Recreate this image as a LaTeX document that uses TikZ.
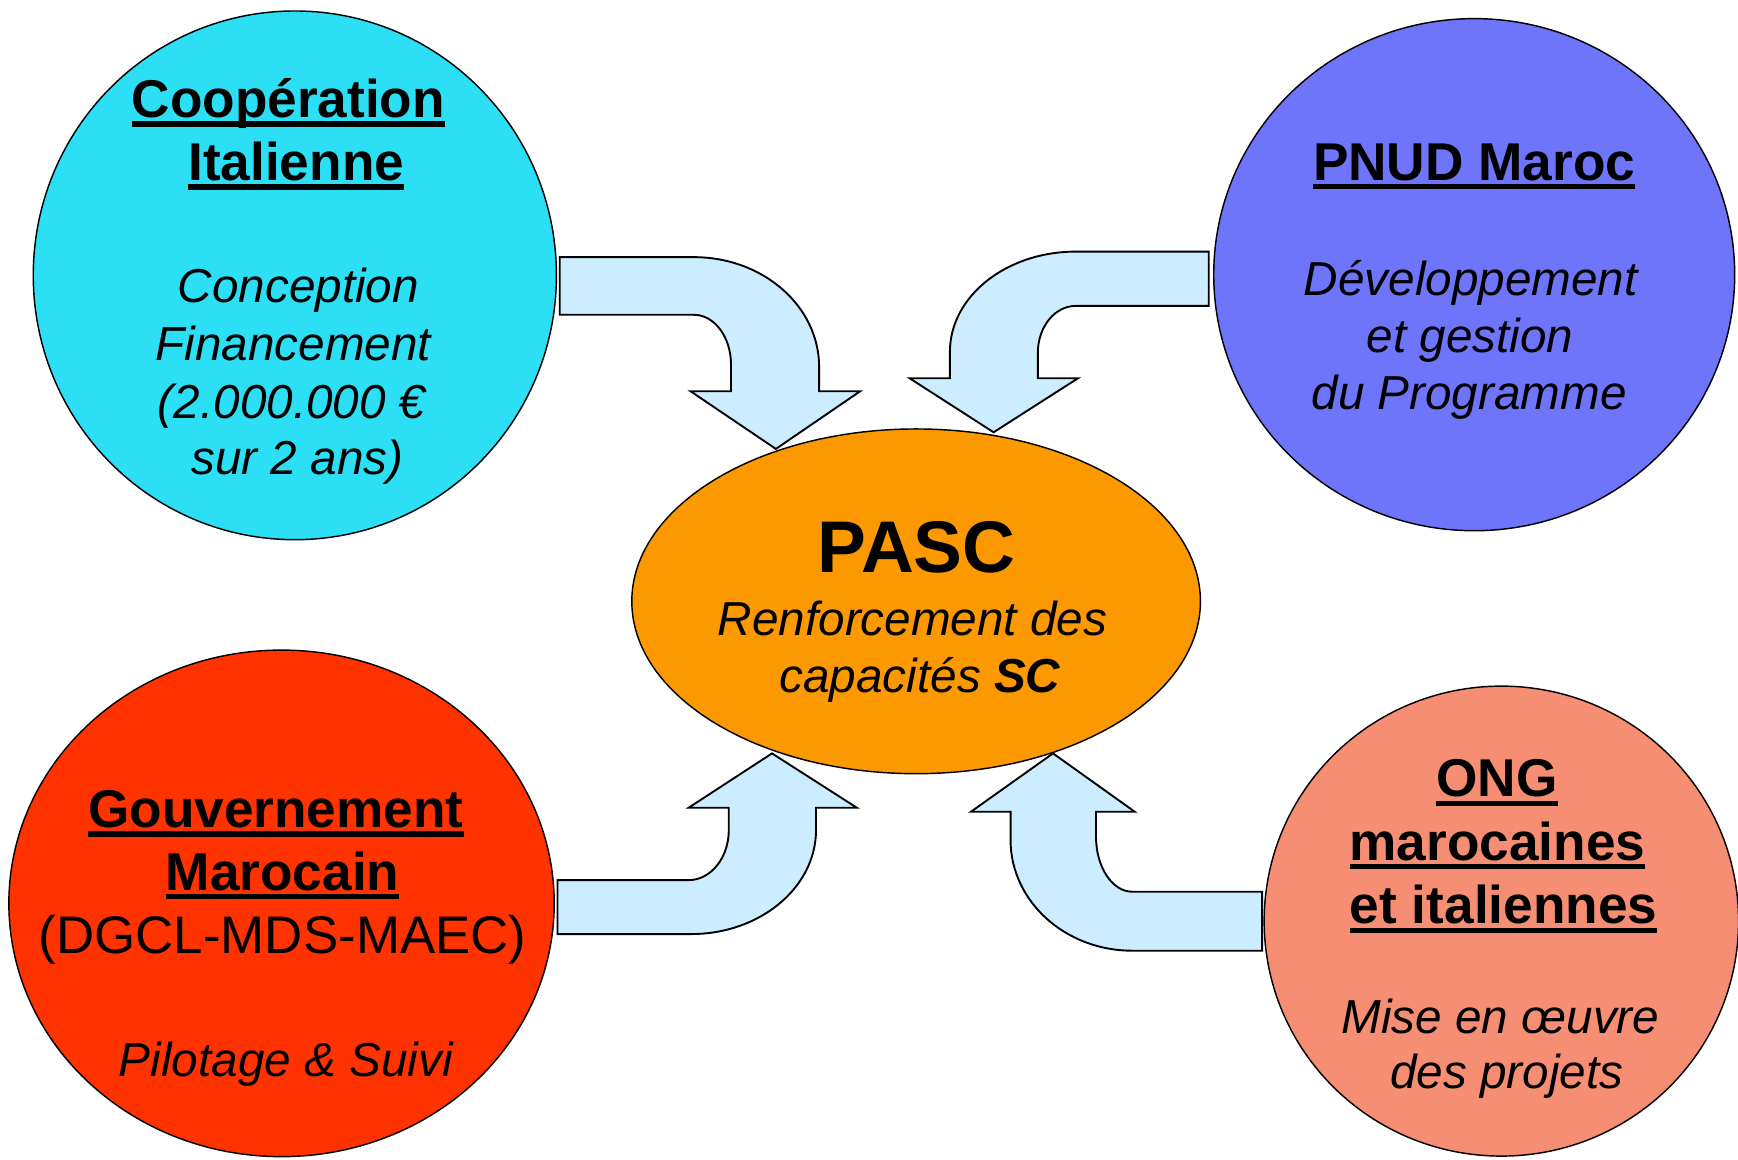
\documentclass[tikz,border=0pt]{standalone}
\usepackage{fontspec}
\setmainfont{Liberation Sans}
\usetikzlibrary{shapes.geometric}
\definecolor{cyanc}{RGB}{45,223,245}
\definecolor{pnudc}{RGB}{111,117,250}
\definecolor{govc}{RGB}{255,51,0}
\definecolor{ongc}{RGB}{245,142,114}
\definecolor{pascc}{RGB}{252,153,0}
\definecolor{arrowc}{RGB}{204,236,255}
\newcommand\ulx[1]{\setbox0=\hbox{#1}\rlap{\rule[-8.4pt]{\wd0}{5pt}}\box0}
\tikzset{
  blob/.style={ellipse, draw=black, line width=1.3pt, inner sep=0pt},
  barrow/.style={fill=arrowc, draw=black, line width=1.7pt, line join=miter},
  ttl/.style={anchor=base, inner sep=0pt, font=\fontsize{48}{58}\selectfont\bfseries},
  bdy/.style={anchor=base, inner sep=0pt, font=\fontsize{43}{52}\selectfont\itshape},
  reg/.style={anchor=base, inner sep=0pt, font=\fontsize{47.7}{57}\selectfont},
  big/.style={anchor=base, inner sep=0pt, font=\fontsize{66}{79}\selectfont\bfseries}
}
\begin{document}
\begin{tikzpicture}[x=1pt,y=-1pt]
\useasboundingbox (0,0) rectangle (1568,1046);
\clip (0,0) rectangle (1568,1046);
% ellipses
\node[blob, fill=cyanc, minimum width=472pt, minimum height=477pt] (coop) at (266,248.4) {};
\node[blob, fill=pnudc, minimum width=470pt, minimum height=462pt] (pnud) at (1330,247.8) {};
\node[blob, fill=govc, minimum width=492pt, minimum height=457pt] (gov) at (254,815) {};
\node[blob, fill=ongc, minimum width=428pt, minimum height=424pt] (ong) at (1354.5,831) {};
\node[blob, fill=pascc, minimum width=513pt, minimum height=311pt] (pasc) at (826.5,542.5) {};
% arrows
\path[barrow] (505,232) -- (626,232) .. controls (688.4,232) and (739,276.3) .. (739,331)
  -- (739,353) -- (776,353) -- (700,405) -- (623,353) -- (659.5,353) -- (659.5,329)
  .. controls (659.5,304.1) and (644.5,284) .. (626,284) -- (505,284) -- cycle;
\path[barrow] (1090.5,227) -- (970.5,227) .. controls (907.8,227) and (857,267.4) .. (857,317.3)
  -- (857,341.3) -- (820.7,341.3) -- (896.4,390) -- (972.5,341.3) -- (936.3,341.3) -- (936.3,318.5)
  .. controls (936.3,295) and (951.6,276) .. (970.5,276) -- (1090.5,276) -- cycle;
\path[barrow] (503,842.7) -- (623.4,842.7) .. controls (685.7,842.7) and (736.2,800.7) .. (736.2,748.8)
  -- (736.2,728.7) -- (773,728.7) -- (696.5,679.7) -- (621.3,728.7) -- (657.5,728.7) -- (657.5,748.8)
  .. controls (657.5,773.8) and (641.3,794) .. (621.3,794) -- (503,794) -- cycle;
\path[barrow] (1138.6,857.7) -- (1021.5,857.7) .. controls (960.9,857.7) and (911.7,813) .. (911.7,757.8)
  -- (911.7,732.3) -- (876,732.3) -- (950,679.7) -- (1023.7,732.3) -- (988.8,732.3) -- (988.8,754.8)
  .. controls (988.8,782.2) and (1003.4,804.5) .. (1021.5,804.5) -- (1138.6,804.5) -- cycle;
% texts: Cooperation
\node[ttl] (coopt1) at (260.1,105.9) {\ulx{Coopération}};
\node[ttl] (coopt2) at (267.2,163) {\ulx{Italienne}};
\node[bdy] (coopb1) at (269.2,272.8) {Conception};
\node[bdy] (coopb2) at (264.6,324.8) {Financement};
\node[bdy] (coopb3) at (263.2,377.4) {(2.000.000 €};
\node[bdy] (coopb4) at (268.4,428.5) {sur 2 ans)};
% PNUD
\node[ttl] (pnudt) at (1330,162.4) {\ulx{PNUD Maroc}};
\node[bdy] (pnudb1) at (1327,266.2) {Développement};
\node[bdy] (pnudb2) at (1326.2,317.9) {et gestion};
\node[bdy] (pnudb3) at (1325.5,369.3) {du Programme};
% Gouvernement
\node[ttl] (govt1) at (248.9,746.4) {\ulx{Gouvernement}};
\node[ttl] (govt2) at (254.9,803) {\ulx{Marocain}};
\node[reg] (govr) at (255,860) {(DGCL-MDS-MAEC)};
\node[bdy] (govb) at (257.9,970.8) {Pilotage \& Suivi};
% ONG
\node[ttl] (ongt1) at (1350.6,718.8) {\ulx{ONG}};
\node[ttl] (ongt2) at (1351,775.9) {\ulx{marocaines}};
\node[ttl] (ongt3) at (1356.6,833.6) {\ulx{et italiennes}};
\node[bdy] (ongb1) at (1353.7,932.3) {Mise en œuvre};
\node[bdy] (ongb2) at (1359.3,981.9) {des projets};
% PASC
\node[big] (pasct) at (827,516.7) {PASC};
\node[bdy] (pascb1) at (823.3,573.5) {Renforcement des};
\node[bdy] (pascb2) at (830,625) {capacités {\bfseries SC}};
\end{tikzpicture}
\end{document}
